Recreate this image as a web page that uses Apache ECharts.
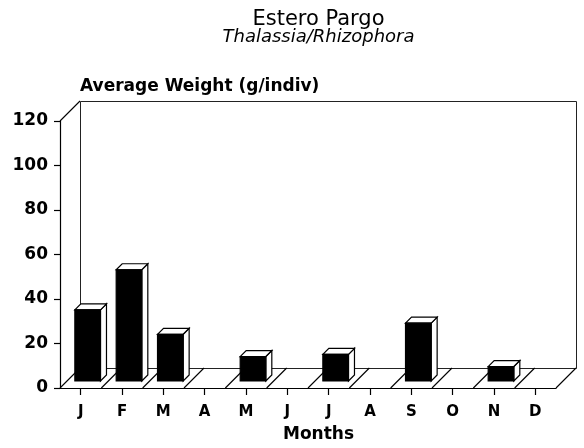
<!DOCTYPE html>
<html>
<head>
<meta charset="utf-8">
<script src="https://cdn.jsdelivr.net/npm/echarts@6/dist/echarts.min.js"></script>
<style>
  html, body { margin: 0; padding: 0; background: #fff; }
  #chart { width: 584px; height: 448px; }
</style>
</head>
<body>
<div id="chart"></div>
<script>
// Monthly average weight (g/indiv); null = no bar for that month
const months = ['J', 'F', 'M', 'A', 'M', 'J', 'J', 'A', 'S', 'O', 'N', 'D'];
const avgWeight = [32, 50, 21, null, 11, null, 12, null, 26, null, 6.5, null];
const yMin = 0;
const yMax = 120;
const yStep = 20;

// pseudo-3D geometry (pixels)
const FLOOR_DEPTH = 20;   // back wall offset, right and up
const BAR_FRONT = 7;      // how far into the floor the bar's front face sits
const BAR_DEPTH = 6;      // thickness of each box
const BAR_RATIO = 0.62;   // bar width as a share of the category band
const INK = '#000';
const FONT = '"DejaVu Sans", sans-serif';

// back wall, floor and floor slats
function renderFrame(params, api) {
  const cs = params.coordSys;
  const x0 = cs.x, yT = cs.y, y0 = cs.y + cs.height;
  const D = FLOOR_DEPTH;
  const band = api.size([1, 0])[0];
  const children = [];
  const line = (a, b, c, d) => children.push({
    type: 'line', shape: { x1: a, y1: b, x2: c, y2: d },
    style: { stroke: INK, lineWidth: 1.1 }
  });
  children.push({
    type: 'rect',
    shape: { x: x0 + D + 0.5, y: yT - D + 0.5, width: cs.width, height: cs.height },
    style: { fill: 'none', stroke: '#222', lineWidth: 1 }
  });
  line(x0, yT, x0 + D, yT - D);
  for (let k = 0; k <= months.length; k++) {
    const x = x0 + k * band;
    line(x, y0, x + D, y0 - D);
  }
  return { type: 'group', children };
}

// one box per month: black front, white top and side
function renderBox(params, api) {
  const v = api.value(1);
  if (v == null || isNaN(v)) return null;
  const i = api.value(0);
  const base = api.coord([i, 0]);
  const top = api.coord([i, v]);
  const band = api.size([1, 0])[0];
  const w = band * BAR_RATIO;
  const L = base[0] - w / 2 + BAR_FRONT;
  const R = L + w;
  const B = base[1] - BAR_FRONT;
  const T = top[1] - BAR_FRONT;
  const d = BAR_DEPTH;
  const edge = { stroke: INK, lineWidth: 1.2, lineJoin: 'miter' };
  return {
    type: 'group',
    children: [
      { type: 'polygon', shape: { points: [[R, T], [R + d, T - d], [R + d, B - d], [R, B]] },
        style: Object.assign({ fill: '#fff' }, edge) },
      { type: 'polygon', shape: { points: [[L, T], [R, T], [R + d, T - d], [L + d, T - d]] },
        style: Object.assign({ fill: '#fff' }, edge) },
      { type: 'rect', shape: { x: L, y: T, width: w, height: B - T },
        style: Object.assign({ fill: INK }, edge) }
    ]
  };
}

const chart = echarts.init(document.getElementById('chart'), null, { renderer: 'canvas' });
chart.setOption({
  animation: false,
  backgroundColor: '#fff',
  grid: { left: 60, right: 28, top: 121, bottom: 60, containLabel: false, outerBoundsMode: 'none' },
  xAxis: {
    type: 'category',
    data: months,
    boundaryGap: true,
    axisLine: { show: true, lineStyle: { color: INK, width: 1.2 } },
    axisTick: { show: true, alignWithLabel: true, length: 7, lineStyle: { color: INK, width: 1.2 } },
    axisLabel: {
      color: '#000', fontFamily: FONT, fontWeight: 'bold', fontSize: 15,
      margin: 24, verticalAlign: 'middle', interval: 0
    },
    splitLine: { show: false }
  },
  yAxis: {
    type: 'value',
    min: yMin, max: yMax, interval: yStep,
    axisLine: { show: true, lineStyle: { color: INK, width: 1.2 } },
    axisTick: { show: true, length: 6, lineStyle: { color: INK, width: 1.2 } },
    axisLabel: { color: '#000', fontFamily: FONT, fontWeight: 'bold', fontSize: 17, margin: 12 },
    splitLine: { show: false }
  },
  graphic: [
    { type: 'text', x: 318.5, y: 19.5,
      style: { text: 'Estero Pargo', fill: '#000', font: '21px ' + FONT, textAlign: 'center', textVerticalAlign: 'middle' } },
    { type: 'text', x: 318.5, y: 37,
      style: { text: 'Thalassia/Rhizophora', fill: '#000', font: 'italic 18px ' + FONT, textAlign: 'center', textVerticalAlign: 'middle' } },
    { type: 'text', x: 80, y: 86.5,
      style: { text: 'Average Weight (g/indiv)', fill: '#000', font: 'bold 17px ' + FONT, textAlign: 'left', textVerticalAlign: 'middle' } },
    { type: 'text', x: 318.5, y: 435,
      style: { text: 'Months', fill: '#000', font: 'bold 17px ' + FONT, textAlign: 'center', textVerticalAlign: 'middle' } }
  ],
  series: [
    {
      type: 'custom',
      renderItem: renderFrame,
      data: [[0, 0]],
      silent: true,
      z: 1
    },
    {
      type: 'custom',
      renderItem: renderBox,
      data: months.map((m, i) => [i, avgWeight[i]]),
      z: 2
    }
  ]
});
</script>
</body>
</html>
